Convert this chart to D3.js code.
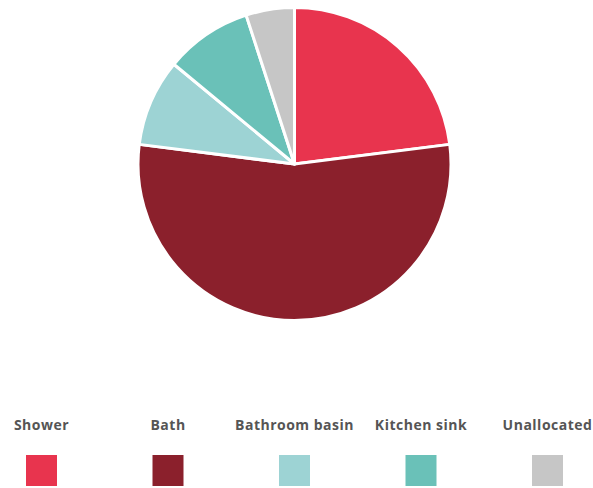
<!DOCTYPE html>
<html>
<head>
<meta charset="utf-8">
<script src="https://cdn.jsdelivr.net/npm/d3@7"></script>
<style>
  html, body { margin: 0; padding: 0; background: #fff; }
  svg { display: block; }
</style>
</head>
<body>
<svg id="chart" width="593" height="488"></svg>
<script>
// Household water use share by end use (%)
const categories = ["Shower", "Bath", "Bathroom basin", "Kitchen sink", "Unallocated"];
const values = [23, 54, 9, 9, 5];
const colors = ["#e8344e", "#8b202c", "#9dd3d4", "#6ac1b8", "#c6c6c6"];

const svg = d3.select("#chart");

const data = categories.map((c, i) => ({ name: c, value: values[i], color: colors[i] }));

// Pie, starting at 12 o'clock and running clockwise
const cx = 294.5, cy = 164, r = 156.5;
const pie = d3.pie().value(d => d.value).sort(null);
const arc = d3.arc().innerRadius(0).outerRadius(r);

svg.append("g")
  .attr("transform", `translate(${cx},${cy})`)
  .selectAll("path")
  .data(pie(data))
  .join("path")
  .attr("d", arc)
  .attr("fill", d => d.data.color)
  .attr("stroke", "#fff")
  .attr("stroke-width", 3)
  .attr("stroke-linejoin", "round");

// Legend: label above a colour swatch, evenly spaced
const legendX = d3.scalePoint()
  .domain(categories)
  .range([41.5, 547.5]);

const legend = svg.append("g")
  .selectAll("g")
  .data(data)
  .join("g")
  .attr("transform", d => `translate(${legendX(d.name)},0)`);

legend.append("text")
  .attr("y", 429.5)
  .attr("text-anchor", "middle")
  .attr("font-family", "'Open Sans', sans-serif")
  .attr("font-weight", 700)
  .attr("font-size", 14)
  .attr("letter-spacing", 0.5)
  .attr("fill", "#555")
  .text(d => d.name);

legend.append("rect")
  .attr("x", -15.5)
  .attr("y", 455)
  .attr("width", 31)
  .attr("height", 31)
  .attr("fill", d => d.color);
</script>
</body>
</html>
